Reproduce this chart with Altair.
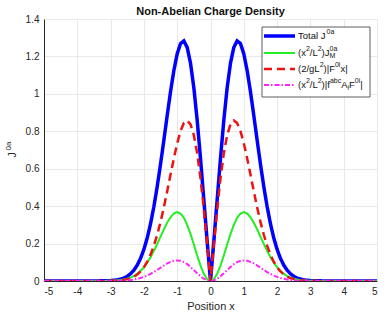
import altair as alt
import pandas as pd

# Sample positions for x >= 0; the densities are even in x, so the
# negative half is the mirror image.
x_half = [0.0, 0.1, 0.2, 0.3, 0.4, 0.5, 0.6, 0.7, 0.8, 0.9,
          1.0, 1.1, 1.2, 1.3, 1.4, 1.5, 1.6, 1.7, 1.8, 1.9,
          2.0, 2.1, 2.2, 2.3, 2.4, 2.5, 2.6, 2.7, 2.8, 2.9,
          3.0, 3.5, 4.0, 4.5, 5.0]

total_half = [0.0, 0.211, 0.434, 0.655, 0.859, 1.032, 1.164, 1.248, 1.283, 1.269,
              1.214, 1.125, 1.012, 0.885, 0.753, 0.625, 0.505, 0.398, 0.306, 0.230,
              0.169, 0.121, 0.085, 0.058, 0.039, 0.025, 0.016, 0.010, 0.006, 0.004,
              0.002, 0.0, 0.0, 0.0, 0.0]

jm_half = [0.0, 0.010, 0.038, 0.082, 0.136, 0.195, 0.251, 0.300, 0.338, 0.360,
           0.368, 0.361, 0.341, 0.312, 0.276, 0.237, 0.198, 0.161, 0.127, 0.098,
           0.073, 0.054, 0.038, 0.027, 0.018, 0.012, 0.008, 0.005, 0.003, 0.002,
           0.001, 0.0, 0.0, 0.0, 0.0]

fx_half = [0.0, 0.198, 0.384, 0.548, 0.682, 0.779, 0.837, 0.858, 0.844, 0.801,
           0.736, 0.656, 0.569, 0.480, 0.394, 0.316, 0.247, 0.189, 0.141, 0.103,
           0.073, 0.051, 0.035, 0.023, 0.015, 0.010, 0.006, 0.004, 0.002, 0.001,
           0.001, 0.0, 0.0, 0.0, 0.0]

fabc_half = [0.0, 0.003, 0.012, 0.025, 0.041, 0.058, 0.075, 0.090, 0.101, 0.108,
             0.110, 0.108, 0.102, 0.094, 0.083, 0.071, 0.059, 0.048, 0.038, 0.029,
             0.022, 0.016, 0.012, 0.008, 0.005, 0.004, 0.002, 0.002, 0.001, 0.001,
             0.0, 0.0, 0.0, 0.0, 0.0]

# Legend entries, split into (text, style) runs: "n" normal, "sup" raised, "sub" lowered
legend_runs = [
    [("Total J", "n"), ("0a", "sup")],
    [("(x", "n"), ("2", "sup"), ("/L", "n"), ("2", "sup"), (")J", "n"), ("M", "sub"), ("0a", "supover")],
    [("(2/gL", "n"), ("2", "sup"), (")|F", "n"), ("0i", "sup"), ("x|", "n")],
    [("(x", "n"), ("2", "sup"), ("/L", "n"), ("2", "sup"), (")|f", "n"), ("abc", "sup"),
     ("A", "n"), ("i", "sub"), ("F", "n"), ("0i", "sup"), ("|", "n")],
]
colors = ["#0000ff", "#22ee22", "#ee1111", "#ff22ff"]
widths = [3.5, 2.0, 2.5, 2.0]
dashes = [[1, 0], [1, 0], [8, 5], [5, 2, 1.5, 2]]

x_ticks = [-5, -4, -3, -2, -1, 0, 1, 2, 3, 4, 5]
y_ticks = [0, 0.2, 0.4, 0.6, 0.8, 1, 1.2, 1.4]

FONT = "Liberation Sans"
TEXT_COLOR = "#262626"

# Approximate Liberation Sans advance widths (em units) for laying out the runs
ADV = {
    "(": 0.333, ")": 0.333, "/": 0.278, "|": 0.26, "2": 0.556, "0": 0.556,
    "x": 0.5, "L": 0.556, "J": 0.5, "M": 0.833, "F": 0.611, "A": 0.667,
    "g": 0.556, "i": 0.222, "a": 0.556, "b": 0.556, "c": 0.5, "f": 0.278,
    "T": 0.611, "o": 0.556, "t": 0.278, "l": 0.222, " ": 0.278,
}


def run_width(s, size):
    return sum(ADV.get(ch, 0.556) for ch in s) * size


def mirror(half):
    return half[:0:-1] + half


x_full = [-v for v in x_half[:0:-1]] + x_half
series = [total_half, jm_half, fx_half, fabc_half]

x_scale = alt.Scale(domain=[-5, 5], nice=False, zero=False)
y_scale = alt.Scale(domain=[0, 1.4], nice=False)

x_axis = alt.Axis(values=x_ticks, labelExpr="'' + datum.value", title="Position x",
                  grid=True, ticks=False, labelPadding=5, titlePadding=4)
y_axis = alt.Axis(values=y_ticks, labelExpr="'' + datum.value", title=None,
                  grid=True, ticks=False, labelPadding=5)

layers = []
for i, vals in enumerate(series):
    df = pd.DataFrame({"x": x_full, "y": mirror(vals)})
    layers.append(
        alt.Chart(df).mark_line(color=colors[i], strokeWidth=widths[i],
                                strokeDash=dashes[i], clip=True).encode(
            x=alt.X("x:Q", scale=x_scale, axis=x_axis),
            y=alt.Y("y:Q", scale=y_scale, axis=y_axis),
        )
    )

one = pd.DataFrame({"k": [0]})

# Rotated y-axis title J^{0a}
layers.append(
    alt.Chart(one).mark_text(text="J", angle=270, align="center", baseline="middle",
                             font=FONT, fontSize=11, color=TEXT_COLOR)
    .encode(x=alt.value(-31), y=alt.value(136))
)
layers.append(
    alt.Chart(one).mark_text(text="0a", angle=270, align="center", baseline="middle",
                             font=FONT, fontSize=8, color=TEXT_COLOR)
    .encode(x=alt.value(-35), y=alt.value(127))
)

# Legend box drawn inside the plot area (upper right)
layers.append(
    alt.Chart(one).mark_rect(fill="white", stroke="#333333", strokeWidth=0.8).encode(
        x=alt.value(218), x2=alt.value(326), y=alt.value(8), y2=alt.value(78))
)

row_y = [17, 34, 50, 66]
BASE = 9.5
SMALL = 7.0
for i in range(4):
    layers.append(
        alt.Chart(one).mark_rule(
            color=colors[i], strokeWidth=widths[i], strokeDash=dashes[i]
        ).encode(x=alt.value(220), x2=alt.value(251), y=alt.value(row_y[i]))
    )
    cx = 254.0
    for text, style in legend_runs[i]:
        if style == "n":
            size, dy = BASE, 0
        elif style == "sub":
            size, dy = SMALL, 3
        else:
            size, dy = SMALL, -4
        if style == "supover":
            # superscript stacked over the preceding subscript
            cx -= run_width("M", SMALL)
        layers.append(
            alt.Chart(one).mark_text(
                text=text, align="left", baseline="middle", font=FONT,
                fontSize=size, color="#111111"
            ).encode(x=alt.value(cx), y=alt.value(row_y[i] + dy))
        )
        cx += run_width(text, size)

chart = alt.layer(*layers).properties(
    width=333, height=262,
    autosize="none",
    padding={"left": 44, "top": 19, "right": 9, "bottom": 37},
    title=alt.TitleParams("Non-Abelian Charge Density", font=FONT, fontSize=11,
                          fontWeight="bold", color="#111111", anchor="middle",
                          offset=4, dy=7),
).configure_view(stroke=None).configure_axis(
    labelFont=FONT, titleFont=FONT, labelFontSize=10, titleFontSize=11,
    titleFontWeight="normal", labelColor=TEXT_COLOR, titleColor=TEXT_COLOR,
    domainColor=TEXT_COLOR, gridColor="#e3e3e3", gridWidth=0.8,
)

chart.save("out.html", embed_options={"renderer": "svg", "actions": False})
